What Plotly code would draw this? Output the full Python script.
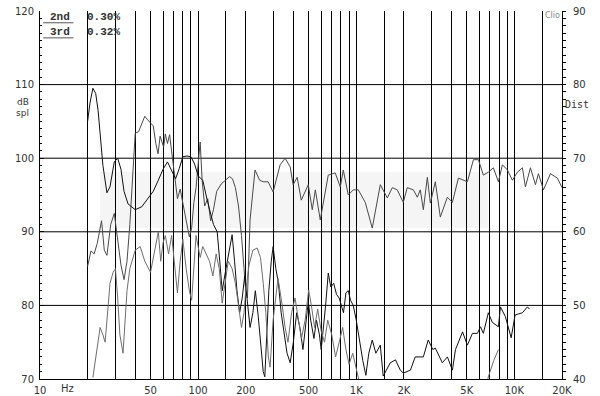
import math
import plotly.graph_objects as go

# ---------------- data ----------------
# SPL response, left axis (dB spl)
resp_freq = [20, 21, 22, 23, 24.5, 25.5, 26.5, 28, 29.5, 31,
             32.5, 34, 35.5, 37, 38.5, 40, 42, 44, 46, 48,
             50, 52, 54, 55.8, 57.5, 59, 60.5, 62, 64, 66,
             68.5, 71, 74, 77, 80, 84, 88, 91, 94, 97,
             100, 103, 106, 110, 115, 120, 125, 131, 140, 150,
             158, 165, 172, 180, 188, 195, 200, 205, 209, 213,
             229, 245, 258, 277, 298, 330, 355, 382, 399, 423,
             449, 497, 527, 551, 592, 665, 736, 792, 828, 890,
             957, 1030, 1140, 1262, 1419, 1571, 1690, 1817, 1983, 2102,
             2296, 2432, 2541, 2656, 2815, 2941, 3162, 3401, 3767, 4055,
             4426, 4756, 5043, 5508, 5919, 6365, 6843, 7362, 7924, 8395,
             9036, 9711, 10450, 11240, 11740, 12630, 13590, 14190, 15270, 16900,
             18710, 20000]
resp_db = [85.3, 87.4, 87.0, 88.4, 91.5, 87.5, 86.8, 91, 92.5, 89,
           85.5, 83.5, 86, 91, 97, 103.4, 103.6, 104.6, 105.7, 105.2,
           104.8, 104.4, 102.0, 100.6, 103.0, 102.2, 101.5, 103.3, 102.0, 103.2,
           100.2, 97.5, 94.5, 95.8, 94.0, 91.5, 89.3, 90.5, 94, 96,
           99, 102.2, 97, 93.5, 94.5, 91.5, 93.0, 95.5, 96.5, 97.0,
           97.5, 97.2, 96.0, 93.5, 89.5, 85, 82, 81, 86, 91.6,
           98.4, 97.0, 96.8, 96.8, 95.4, 99.1, 100.0, 98.8, 96.4, 97.4,
           94.3, 96.4, 93.0, 95.7, 91.6, 97.7, 98.0, 96.1, 98.4, 95.0,
           95.7, 95.7, 94.0, 90.5, 96.4, 94.6, 96.0, 95.7, 94.0, 96.0,
           95.7, 94.7, 95.7, 93.0, 97.4, 93.9, 96.8, 92.0, 94.7, 94.0,
           97.3, 97.0, 96.8, 99.8, 99.8, 97.7, 98.1, 98.7, 96.8, 99.1,
           98.4, 97.0, 98.1, 98.7, 96.1, 98.7, 96.4, 97.9, 95.7, 97.9,
           97.3, 96.0]

# 2nd harmonic distortion, right axis (Dist)
h2_freq = [20, 20.7, 21.6, 22.5, 23.3, 24, 25, 26.5, 27.7, 29.5,
           31, 32.5, 34, 36, 40, 44, 48, 52, 56, 60,
           64, 68, 72, 76, 80, 85, 90, 95, 100, 107,
           115, 125, 132, 137, 142, 150, 158, 164, 170, 176,
           183, 190, 197, 205, 213, 222, 230, 240, 250, 258,
           264, 272, 280, 290, 298, 310, 322, 335, 350, 365,
           382, 400, 420, 440, 460, 480, 497, 515, 540, 560,
           585, 600, 620, 640, 665, 690, 720, 750, 780, 800,
           830, 860, 890, 920, 957, 1000, 1050, 1100, 1150, 1200,
           1262, 1330, 1419, 1480, 1640, 1770, 1900, 1983, 2200, 2360,
           2656, 2850, 3050, 3162, 3500, 3770, 4055, 4240, 4700, 5043,
           5430, 5840, 6100, 6365, 6843, 7250, 7924, 8160, 8760, 9140,
           9540, 10100, 10750, 11240, 12080, 12450]
h2_dist = [75.0, 77.5, 79.5, 78.8, 76.5, 73, 69, 65.3, 66.1, 69.5,
           70, 68.5, 65.5, 63.8, 63.0, 63.4, 64.5, 65.5, 67, 68.5,
           69.5, 68.3, 67.2, 68.6, 70.2, 70.3, 70.2, 69.2, 67.6, 67,
           64, 61, 60, 56, 52, 55, 58, 59.6, 56, 52,
           49, 51, 54, 50, 47, 49, 52, 48.5, 44, 41,
           40.3, 46, 52, 56, 58, 55, 53, 49, 46, 43.5,
           42.2, 45, 49, 47, 44, 47.5, 50.5, 48, 45.5, 48,
           46, 44, 47, 50, 54.4, 52.5, 53, 51.5, 51, 50.3,
           49, 51.7, 52, 50.7, 50, 48, 45, 42.5, 40.5, 43.5,
           45.3, 43.5, 44.6, 40.4, 42.2, 42.6, 41.2, 40.8, 41.2, 43.0,
           43.0, 45.3, 44.0, 44.2, 42.2, 43.0, 41.2, 44.0, 46.4, 44.6,
           46.2, 46.2, 47.1, 46.2, 49.0, 47.7, 47.1, 49.8, 48.5, 47.0,
           45.6, 48.7, 48.9, 49.0, 49.8, 49.5]

# 3rd harmonic distortion, right axis (Dist); None = below the chart floor
h3_freq = [21.6, 22.5, 24, 25, 25.8, 27, 27.7, 29, 30, 31,
           32, 33.5, 34.5, 35.5, 37, 40, 43, 46, 50, 54,
           56, 58, 60, 62, 65, 68, 71, 74, 77, 80,
           84, 88, 91, 94, 97, 100, 103, 107, 112, 118,
           124, 130, 136, 142, 148, 155, 164, 172, 180, 188,
           195, 200, 210, 222, 236, 248, 258, 268, 278, 285,
           298, 320, 340, 355, 370, 390, 410, 430, 450, 475,
           500, 520, 545, 570, 600, 630, 660, 700, 740, 780,
           820, 860, 900, 950, 1000, 1040, 1080, None, 6600, 6843,
           7400, 7924]
h3_dist = [40.2, 43, 47, 46, 45, 50, 53, 54.5, 55, 51,
           46, 43.5, 48, 52, 55, 57.5, 58, 56, 54.5, 58,
           60, 56, 58.5, 59.5, 57, 59.5, 55, 51.7, 56, 59,
           55, 52, 50.7, 56, 59.5, 58, 56.5, 58, 57, 56,
           54, 57, 55, 50.3, 53, 56, 55, 53, 50, 47,
           49, 52, 55.5, 57.5, 57.8, 56.5, 53, 49, 43, 41.6,
           48, 53.7, 50, 47, 45, 49, 51, 48, 45.5, 48,
           52.1, 50, 47, 49.5, 46.5, 45, 48, 46, 43, 45,
           47, 44, 42, 43.5, 41.5, 39.8, 37, None, 38.5, 40.3,
           42.5, 44.0]

# axes / grid / labels
grid_freqs = [20, 30, 40, 50, 60, 70, 80, 90, 100, 150, 200, 300, 400, 500,
              600, 700, 800, 900, 1000, 1500, 2000, 3000, 4000, 5000, 6000,
              7000, 8000, 9000, 10000, 15000]
label_freqs = [10, 50, 100, 200, 500, 1000, 2000, 5000, 10000, 20000]
label_texts = ["10", "50", "100", "200", "500", "1K", "2K", "5K", "10K", "20K"]
spl_ticks = [70, 80, 90, 100, 110, 120]
dist_ticks = [40, 50, 60, 70, 80, 90]
hgrid_levels = [80, 90, 100, 110]
legend_names = ["2nd", "3rd"]
legend_values = ["0.30%", "0.32%"]

# ---------------- figure ----------------
tickvals = sorted(set(grid_freqs + label_freqs))
ticktext = [label_texts[label_freqs.index(v)] if v in label_freqs else "" for v in tickvals]

fig = go.Figure()
fig.add_trace(go.Scatter(x=resp_freq, y=resp_db, mode="lines", yaxis="y",
                         line=dict(color="#4a4a4a", width=1), hoverinfo="skip"))
fig.add_trace(go.Scatter(x=h2_freq, y=h2_dist, mode="lines", yaxis="y2",
                         line=dict(color="#111111", width=1), hoverinfo="skip"))
fig.add_trace(go.Scatter(x=h3_freq, y=h3_dist, mode="lines", yaxis="y2",
                         connectgaps=False,
                         line=dict(color="#6e6e6e", width=1), hoverinfo="skip"))

shapes = []
# faint watermark band
shapes.append(dict(type="rect", xref="paper", yref="paper", x0=0.115, x1=0.858,
                   y0=0.41, y1=0.5625, fillcolor="#f5f5f5",
                   line=dict(width=0), layer="below"))
for lv in hgrid_levels:
    shapes.append(dict(type="line", xref="paper", yref="y", x0=0, x1=1, y0=lv, y1=lv,
                       line=dict(color="#000", width=1), layer="below"))
# legend box covering top-left grid
shapes.append(dict(type="rect", xref="paper", yref="paper", x0=0.008, x1=0.166,
                   y0=0.925, y1=1.0, fillcolor="#fff", line=dict(width=0),
                   layer="between"))
for yy in [0.968, 0.927]:
    shapes.append(dict(type="line", xref="paper", yref="paper", x0=0.006, x1=0.064,
                       y0=yy, y1=yy, line=dict(color="#555", width=1), layer="above"))

annotations = []
for i, (nm, val) in enumerate(zip(legend_names, legend_values)):
    yy = 0.985 - i * 0.041
    annotations.append(dict(xref="paper", yref="paper", x=0.0374, y=yy, text="<b>%s</b>" % nm,
                            showarrow=False, xanchor="center", yanchor="middle",
                            font=dict(family="Liberation Mono", size=11, color="#333")))
    annotations.append(dict(xref="paper", yref="paper", x=0.1226, y=yy, text="<b>%s</b>" % val,
                            showarrow=False, xanchor="center", yanchor="middle",
                            font=dict(family="Liberation Mono", size=11, color="#333")))
annotations += [
    dict(xref="paper", yref="paper", x=0.052, y=-0.027, text="Hz", showarrow=False,
         xanchor="center", yanchor="middle", font=dict(size=10, color="#333")),
    dict(xref="paper", yref="paper", x=-0.0326, y=0.752, text="dB", showarrow=False,
         xanchor="center", yanchor="middle", font=dict(size=9, color="#333")),
    dict(xref="paper", yref="paper", x=-0.0326, y=0.722, text="spl", showarrow=False,
         xanchor="center", yanchor="middle", font=dict(size=9, color="#333")),
    dict(xref="paper", yref="paper", x=1.028, y=0.747, text="Dist", showarrow=False,
         xanchor="center", yanchor="middle",
         font=dict(family="DejaVu Sans Mono", size=10, color="#333")),
    dict(xref="paper", yref="paper", x=0.982, y=0.989, text="Clio", showarrow=False,
         xanchor="center", yanchor="middle", font=dict(size=8, color="#888")),
]

fig.update_layout(
    width=600, height=396, autosize=False,
    margin=dict(l=40, r=38, t=11, b=17, autoexpand=False),
    paper_bgcolor="#fff", plot_bgcolor="#fff",
    showlegend=False,
    font=dict(family="DejaVu Sans", size=10, color="#333"),
    xaxis=dict(type="log", range=[1, math.log10(20000)], tickvals=tickvals, ticktext=ticktext,
               showgrid=True, gridcolor="#000", gridwidth=1, zeroline=False,
               showline=True, linecolor="#000", linewidth=1, ticks="", tickangle=0,
               ticklabelstandoff=2, automargin=False),
    yaxis=dict(range=[70, 120], tickvals=spl_ticks, showgrid=False, zeroline=False,
               showline=True, linecolor="#000", linewidth=1,
               ticks="inside", ticklen=4, tickcolor="#000",
               minor=dict(dtick=1, ticks="inside", ticklen=2, tickcolor="#000", showgrid=False),
               ticklabelstandoff=3, automargin=False),
    yaxis2=dict(range=[40, 90], overlaying="y", side="right", anchor="x",
                tickvals=dist_ticks, showgrid=False, zeroline=False,
                showline=True, linecolor="#000", linewidth=1,
                ticks="outside", ticklen=3, tickcolor="#000",
                minor=dict(dtick=1, ticks="outside", ticklen=3, tickcolor="#000", showgrid=False),
                ticklabelstandoff=5, automargin=False),
    shapes=shapes,
    annotations=annotations,
)

fig.write_html("out.html", config={"displayModeBar": False},
               post_script="document.body.style.margin='0';document.body.style.overflow='hidden';")
